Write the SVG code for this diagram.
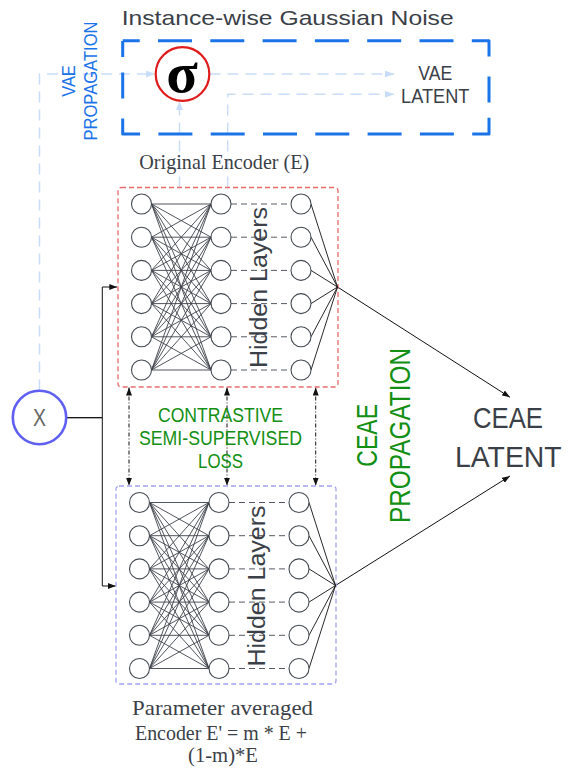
<svg xmlns="http://www.w3.org/2000/svg" xmlns:xlink="http://www.w3.org/1999/xlink" width="570" height="769" viewBox="0 0 570 769">
<style>
.n{fill:#fff;stroke:#454a52;stroke-width:1.1}
.fc{fill:none;stroke:#3d424a;stroke-width:0.9}
.hd{fill:none;stroke:#555a62;stroke-width:1;stroke-dasharray:6 4}
.cv{fill:none;stroke:#111;stroke-width:0.9}
.hl{font-family:"Liberation Sans",Arial,sans-serif;font-size:23.5px;fill:#3b3f48}
.dk{font-family:"Liberation Sans",Arial,sans-serif;fill:#3b3f48}
.gr{font-family:"Liberation Sans",Arial,sans-serif;fill:#138f13}
.bl{font-family:"Liberation Sans",Arial,sans-serif;fill:#1a73e8}
.sf{font-family:"Liberation Serif","Times New Roman",serif;fill:#3b3f48}
.lb{fill:none;stroke:#c9ddf8;stroke-width:1.5;stroke-dasharray:11 7}
.bk{fill:none;stroke:#111;stroke-width:1}
.dd{fill:none;stroke:#111;stroke-width:1;stroke-dasharray:4 2 1 2}
</style>
<defs>
<marker id="ab" markerUnits="userSpaceOnUse" markerWidth="8" markerHeight="6" refX="8" refY="3" orient="auto-start-reverse"><path d="M0 0L8 3L0 6z" fill="#111"/></marker>
<marker id="al" markerUnits="userSpaceOnUse" markerWidth="9" markerHeight="7" refX="9" refY="3.5" orient="auto"><path d="M0 0L9 3.5L0 7z" fill="#c9ddf8"/></marker>
<g id="net">
<path class="fc" d="M10 0L69.5 0M10 0L69.5 33.2M10 0L69.5 66.4M10 0L69.5 99.6M10 0L69.5 132.8M10 0L69.5 166M10 33.2L69.5 0M10 33.2L69.5 33.2M10 33.2L69.5 66.4M10 33.2L69.5 99.6M10 33.2L69.5 132.8M10 33.2L69.5 166M10 66.4L69.5 0M10 66.4L69.5 33.2M10 66.4L69.5 66.4M10 66.4L69.5 99.6M10 66.4L69.5 132.8M10 66.4L69.5 166M10 99.6L69.5 0M10 99.6L69.5 33.2M10 99.6L69.5 66.4M10 99.6L69.5 99.6M10 99.6L69.5 132.8M10 99.6L69.5 166M10 132.8L69.5 0M10 132.8L69.5 33.2M10 132.8L69.5 66.4M10 132.8L69.5 99.6M10 132.8L69.5 132.8M10 132.8L69.5 166M10 166L69.5 0M10 166L69.5 33.2M10 166L69.5 66.4M10 166L69.5 99.6M10 166L69.5 132.8M10 166L69.5 166"/>
<path class="hd" d="M89.5 0H149.5M89.5 33.2H149.5M89.5 66.4H149.5M89.5 99.6H149.5M89.5 132.8H149.5M89.5 166H149.5"/>
<path class="cv" d="M169.5 0L196 83M169.5 33.2L196 83M169.5 66.4L196 83M169.5 99.6L196 83M169.5 132.8L196 83M169.5 166L196 83"/>
<circle class="n" cx="0" cy="0" r="10"/><circle class="n" cx="0" cy="33.2" r="10"/><circle class="n" cx="0" cy="66.4" r="10"/><circle class="n" cx="0" cy="99.6" r="10"/><circle class="n" cx="0" cy="132.8" r="10"/><circle class="n" cx="0" cy="166" r="10"/>
<circle class="n" cx="79.5" cy="0" r="10"/><circle class="n" cx="79.5" cy="33.2" r="10"/><circle class="n" cx="79.5" cy="66.4" r="10"/><circle class="n" cx="79.5" cy="99.6" r="10"/><circle class="n" cx="79.5" cy="132.8" r="10"/><circle class="n" cx="79.5" cy="166" r="10"/>
<circle class="n" cx="159.5" cy="0" r="10"/><circle class="n" cx="159.5" cy="33.2" r="10"/><circle class="n" cx="159.5" cy="66.4" r="10"/><circle class="n" cx="159.5" cy="99.6" r="10"/><circle class="n" cx="159.5" cy="132.8" r="10"/><circle class="n" cx="159.5" cy="166" r="10"/>
<text class="hl" x="125.5" y="83.5" text-anchor="middle" transform="rotate(-90 125.5 83.5)" textLength="161" lengthAdjust="spacingAndGlyphs">Hidden Layers</text>
</g>
</defs>
<rect width="570" height="769" fill="#fff"/>

<g id="connectors">
<path class="lb" d="M39.5 390.5V74H155" marker-end="url(#al)"/>
<path class="lb" d="M179.5 187.5V101" marker-end="url(#al)"/>
<path class="lb" d="M227.7 187.5V94.3H394" marker-end="url(#al)"/>
<path class="lb" d="M209.5 74H394" marker-end="url(#al)"/>
<path class="bk" d="M66.5 417.7H102.3V287H117.3" marker-end="url(#ab)"/>
<path class="bk" d="M66.5 417.7H102.3V586H115.7" marker-end="url(#ab)"/>
<path class="bk" d="M337.5 287L510 397.3" marker-end="url(#ab)"/>
<path class="bk" d="M335.5 585.5L510 476" marker-end="url(#ab)"/>
<path class="dd" d="M129 387.5V485.7" marker-start="url(#ab)" marker-end="url(#ab)"/>
<path class="dd" d="M227 387.5V485.7" marker-start="url(#ab)" marker-end="url(#ab)"/>
<path class="dd" d="M315.7 387.5V485.7" marker-start="url(#ab)" marker-end="url(#ab)"/>
</g>

<g id="noise-box">
<text class="dk" x="121.7" y="25" font-size="21" textLength="332" lengthAdjust="spacingAndGlyphs">Instance-wise Gaussian Noise</text>
<path d="M122.7 40.7H489V134H122.7Z" fill="none" stroke="#1a73e8" stroke-width="3" stroke-linejoin="round" stroke-dasharray="17 18.3 34 18.3 34 18.3 34 18.3 34 18.3 34 18.3 34 18.3 33 20 26 15.3 33 18.3 34 18.3 34 18.3 34 18.3 34 18.3 34 18.3 34 18.3 33 20 26 15.3 16 100"/>
</g>

<g id="vae-propagation">
<text class="bl" x="75" y="81" font-size="19" text-anchor="middle" transform="rotate(-90 75 81)" textLength="31.7" lengthAdjust="spacingAndGlyphs">VAE</text>
<text class="bl" x="96.7" y="81" font-size="19" text-anchor="middle" transform="rotate(-90 96.7 81)" textLength="119" lengthAdjust="spacingAndGlyphs">PROPAGATION</text>
</g>

<g id="sigma">
<circle cx="182.5" cy="74" r="26.8" fill="#fff" stroke="#e01b1b" stroke-width="2.2"/>
<text x="182" y="91.5" font-family="'Liberation Serif','Times New Roman',serif" font-size="58" font-weight="bold" text-anchor="middle" fill="#000">σ</text>
</g>

<g id="vae-latent">
<text class="dk" x="435.3" y="80" font-size="20" text-anchor="middle" textLength="34" lengthAdjust="spacingAndGlyphs">VAE</text>
<text class="dk" x="435.2" y="103.3" font-size="20" text-anchor="middle" textLength="68.3" lengthAdjust="spacingAndGlyphs">LATENT</text>
</g>

<g id="encoder-original">
<text class="sf" x="224.3" y="169.3" font-size="21" text-anchor="middle" textLength="170" lengthAdjust="spacingAndGlyphs">Original Encoder (E)</text>
<rect x="118" y="187.5" width="220" height="199.5" rx="3" fill="none" stroke="#ea6a6a" stroke-width="1.3" stroke-dasharray="5 3"/>
<use xlink:href="#net" href="#net" transform="translate(141.5 204)"/>
</g>

<g id="encoder-averaged">
<rect x="116" y="486" width="220" height="198" rx="3" fill="none" stroke="#a3a3f2" stroke-width="1.3" stroke-dasharray="5 3"/>
<use xlink:href="#net" href="#net" transform="translate(139.5 502.5)"/>
<text class="sf" x="222.5" y="715" font-size="21" text-anchor="middle" textLength="181" lengthAdjust="spacingAndGlyphs">Parameter averaged</text>
<text class="sf" x="221" y="740" font-size="21" text-anchor="middle" textLength="172" lengthAdjust="spacingAndGlyphs">Encoder E' = m * E +</text>
<text class="sf" x="223" y="762" font-size="21" text-anchor="middle" textLength="70" lengthAdjust="spacingAndGlyphs">(1-m)*E</text>
</g>

<g id="input-x">
<circle cx="39.5" cy="417.5" r="26.7" fill="#fff" stroke="#5f5ff2" stroke-width="2.6"/>
<text x="39.5" y="425.5" font-family="'Liberation Sans',Arial,sans-serif" font-size="24" text-anchor="middle" fill="#666" textLength="13" lengthAdjust="spacingAndGlyphs">X</text>
</g>

<g id="contrastive-loss">
<text class="gr" x="220.5" y="421.7" font-size="20.5" text-anchor="middle" textLength="125" lengthAdjust="spacingAndGlyphs">CONTRASTIVE</text>
<text class="gr" x="220.5" y="445" font-size="20.5" text-anchor="middle" textLength="163" lengthAdjust="spacingAndGlyphs">SEMI-SUPERVISED</text>
<text class="gr" x="220.5" y="468.3" font-size="20.5" text-anchor="middle" textLength="45" lengthAdjust="spacingAndGlyphs">LOSS</text>
</g>

<g id="ceae-propagation">
<text class="gr" x="376.7" y="435.3" font-size="29" text-anchor="middle" transform="rotate(-90 376.7 435.3)" textLength="62.7" lengthAdjust="spacingAndGlyphs">CEAE</text>
<text class="gr" x="410" y="435.5" font-size="29" text-anchor="middle" transform="rotate(-90 410 435.5)" textLength="175" lengthAdjust="spacingAndGlyphs">PROPAGATION</text>
</g>

<g id="ceae-latent">
<text class="dk" x="508" y="428.3" font-size="30" text-anchor="middle" textLength="70" lengthAdjust="spacingAndGlyphs">CEAE</text>
<text class="dk" x="508.3" y="466.7" font-size="30" text-anchor="middle" textLength="106.7" lengthAdjust="spacingAndGlyphs">LATENT</text>
</g>
</svg>
